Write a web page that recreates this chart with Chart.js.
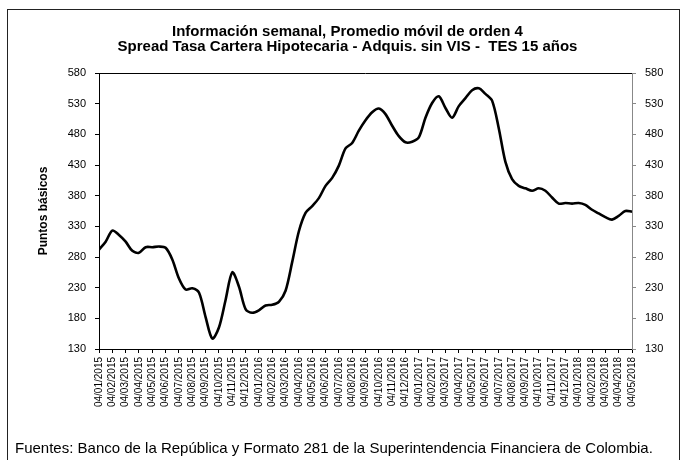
<!DOCTYPE html>
<html>
<head>
<meta charset="utf-8">
<script src="https://cdn.jsdelivr.net/npm/chart.js@4"></script>
<style>
  html, body { margin: 0; padding: 0; background: #fff; }
  #wrap { position: relative; width: 685px; height: 460px; }
  #frame { position: absolute; left: 7px; top: 9px; width: 673px; height: 460px;
           border: 1px solid #222; box-sizing: border-box; pointer-events: none; }
  canvas { position: absolute; left: 0; top: 0; }
</style>
</head>
<body>
<div id="wrap">
  <canvas id="spreadChart" width="685" height="460"></canvas>
  <div id="frame"></div>
</div>
<script>
// Month tick labels on the date axis (one per month)
var monthLabels = [
  '04/01/2015', '04/02/2015', '04/03/2015', '04/04/2015', '04/05/2015', '04/06/2015',
  '04/07/2015', '04/08/2015', '04/09/2015', '04/10/2015', '04/11/2015', '04/12/2015',
  '04/01/2016', '04/02/2016', '04/03/2016', '04/04/2016', '04/05/2016', '04/06/2016',
  '04/07/2016', '04/08/2016', '04/09/2016', '04/10/2016', '04/11/2016', '04/12/2016',
  '04/01/2017', '04/02/2017', '04/03/2017', '04/04/2017', '04/05/2017', '04/06/2017',
  '04/07/2017', '04/08/2017', '04/09/2017', '04/10/2017', '04/11/2017', '04/12/2017',
  '04/01/2018', '04/02/2018', '04/03/2018', '04/04/2018', '04/05/2018'
];

// Spread (basis points), read every half month starting 04/01/2015
var spreadBps = [
  292, 305, 323, 316, 305, 290, 287, 296, 296, 297,
  295, 276, 245, 227, 229, 222, 182, 147, 165, 210,
  255, 232, 195, 189, 193, 201, 202, 207, 225, 272,
  322, 352, 363, 376, 396, 409, 429, 457, 466, 486,
  503, 516, 522, 513, 494, 477, 467, 468, 475, 507,
  531, 542, 523, 507, 526, 539, 552, 555, 546, 535,
  490, 435, 407, 396, 392, 388, 392, 388, 377, 367,
  368, 367, 368, 365, 357, 351, 345, 341, 347, 355,
  354
];

var yMin = 130, yMax = 580, yStep = 50;

var font = "'Liberation Sans', Arial, sans-serif";

// x = month index (half-month steps)
var points = spreadBps.map(function (v, i) { return { x: i / 2, y: v }; });

// top border of the plot area
var plotFrame = {
  id: 'plotFrame',
  afterDraw: function (chart) {
    var a = chart.chartArea, ctx = chart.ctx;
    ctx.save();
    ctx.strokeStyle = '#000';
    ctx.lineWidth = 1;
    ctx.beginPath();
    ctx.moveTo(a.left, a.top + 0.5);
    ctx.lineTo(a.right, a.top + 0.5);
    ctx.stroke();
    ctx.restore();
  }
};

var yTicks = { stepSize: yStep, color: '#000', font: { family: font, size: 11 } };

new Chart(document.getElementById('spreadChart'), {
  type: 'line',
  data: {
    datasets: [{
      data: points,
      borderColor: '#000',
      borderWidth: 2.6,
      pointRadius: 0,
      tension: 0.3,
      fill: false,
      yAxisID: 'y'
    }]
  },
  options: {
    responsive: false,
    animation: false,
    events: [],
    layout: { padding: { left: 15, right: 5, top: 0, bottom: 4 } },
    scales: {
      x: {
        type: 'linear',
        min: 0,
        max: monthLabels.length - 1,
        afterFit: function (s) { s.height = 92; },
        border: { display: true, color: '#000', width: 1 },
        grid: { drawOnChartArea: false, drawTicks: true, tickLength: 4, color: '#000' },
        ticks: {
          stepSize: 1,
          autoSkip: false,
          maxRotation: 90,
          minRotation: 90,
          padding: 4,
          color: '#000',
          font: { family: font, size: 10 },
          callback: function (v) { return monthLabels[v]; }
        }
      },
      y: {
        position: 'left',
        min: yMin,
        max: yMax,
        afterFit: function (s) { s.width = 84; },
        border: { display: true, color: '#000', width: 1 },
        grid: { drawOnChartArea: false, drawTicks: true, tickLength: 4, color: '#000' },
        ticks: Object.assign({ padding: 9 }, yTicks),
        title: {
          display: true,
          text: 'Puntos básicos',
          color: '#000',
          font: { family: font, size: 12, weight: 'bold' },
          padding: { top: 21, bottom: 0 }
        }
      },
      y2: {
        position: 'right',
        min: yMin,
        max: yMax,
        afterFit: function (s) { s.width = 48; },
        border: { display: true, color: '#888', width: 1 },
        grid: { drawOnChartArea: false, drawTicks: true, tickLength: 4, color: '#888' },
        ticks: Object.assign({ padding: 9 }, yTicks)
      }
    },
    plugins: {
      legend: { display: false },
      tooltip: { enabled: false },
      title: {
        display: true,
        text: ['Información semanal, Promedio móvil de orden 4',
               'Spread Tasa Cartera Hipotecaria - Adquis. sin VIS -  TES 15 años'],
        color: '#000',
        font: { family: font, size: 15, weight: 'bold', lineHeight: 1.0 },
        padding: { top: 24, bottom: 19 }
      },
      subtitle: {
        display: true,
        position: 'bottom',
        align: 'start',
        text: 'Fuentes: Banco de la República y Formato 281 de la Superintendencia Financiera de Colombia.',
        color: '#000',
        font: { family: font, size: 15, lineHeight: 1.0 },
        padding: { top: 0, bottom: 0 }
      }
    }
  },
  plugins: [plotFrame]
});
</script>
</body>
</html>
